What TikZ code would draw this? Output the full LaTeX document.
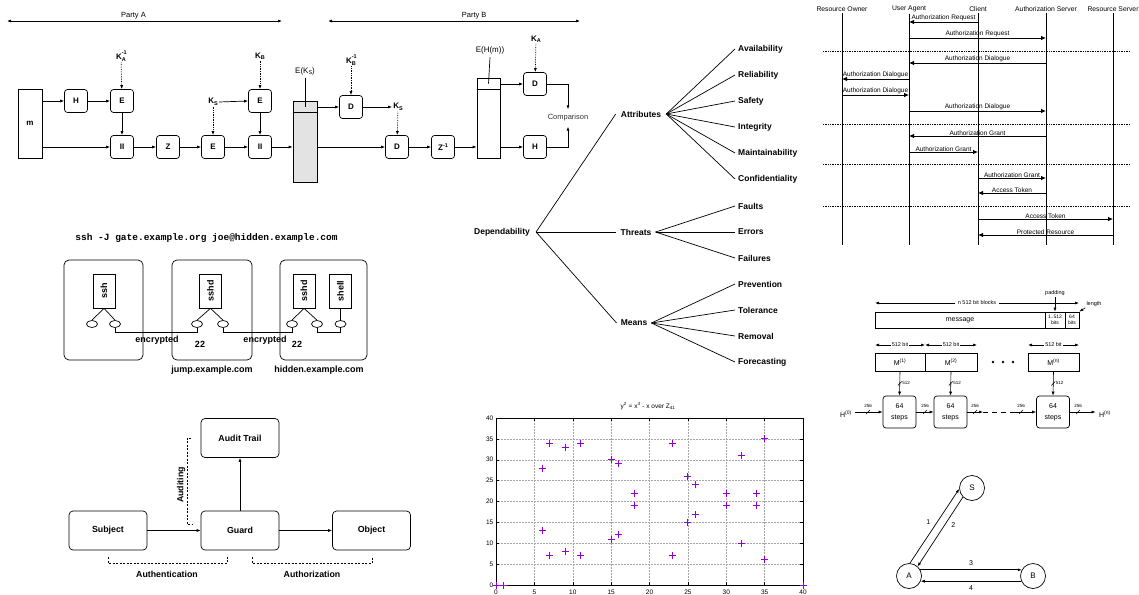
\documentclass[tikz,border=0pt]{standalone}
\usepackage{fontspec}
\setmainfont{Liberation Sans}
\setmonofont{Liberation Mono}
\usetikzlibrary{arrows.meta,shapes.geometric,calc}
\definecolor{gpurple}{RGB}{148,0,211}
\newcommand\fsz[1]{\fontsize{#1}{#1}\selectfont}
\newcommand\Ksub[1]{K\raisebox{-1.5pt}{\fsz{5.5}#1}}
\newcommand\Ksubsup[2]{K\rlap{\raisebox{4.6pt}{\fsz{5.5}#2}}\raisebox{-2pt}{\fsz{5.5}#1}}
\begin{document}
\begin{tikzpicture}[x=1pt,y=-1pt,
  lw/.style={line width=0.7pt},
  >={Latex[length=4pt,width=3pt]},
  arr/.style={lw,->},
  darr/.style={lw,->,densely dotted},
  cbox/.style={draw,lw,rounded corners=3pt,minimum width=23pt,minimum height=23pt,inner sep=0pt,font=\fsz{8}\bfseries},
  klab/.style={font=\fsz{8}\bfseries,inner sep=1pt},
  dep/.style={font=\fsz{8.5}\bfseries,inner xsep=4pt,inner ysep=1pt},
  leaf/.style={font=\fsz{8.5}\bfseries,anchor=west,inner xsep=3pt},
  hdr/.style={font=\fsz{6.8},inner sep=1.5pt},
  life/.style={line width=0.8pt},
  msg/.style={line width=0.8pt,-{Latex[length=5pt,width=4.5pt]}},
  mlab/.style={font=\fsz{6.5},above,inner sep=0.5pt},
  sep/.style={line width=0.7pt,densely dotted},
  host/.style={draw,lw,rounded corners=5pt,minimum height=100pt,inner sep=0pt},
  pbox/.style={draw,lw,minimum width=22pt,minimum height=34pt,inner sep=0pt,font=\fsz{9}\bfseries},
  port/.style={draw,lw,ellipse,minimum width=11pt,minimum height=7pt,inner sep=0pt,fill=white},
  blab/.style={font=\fsz{9}\bfseries,inner sep=1pt},
  gbox/.style={draw,lw,rounded corners=4pt,minimum width=78pt,minimum height=39pt,font=\fsz{8.8}\bfseries},
  brk/.style={lw,dash pattern=on 2pt off 1.5pt},
  glab/.style={font=\fsz{8.8}\bfseries,inner sep=1pt},
  sm/.style={font=\fsz{5.5},inner sep=1pt},
  tiny/.style={font=\fsz{4.5},inner sep=0.5pt},
  shaarr/.style={line width=0.6pt,->},
  shadbl/.style={line width=0.6pt,<->},
  stp/.style={draw,lw,rounded corners=3pt,minimum width=33pt,minimum height=32pt,inner sep=0pt,font=\fsz{7},align=center},
  mbx/.style={draw,lw,minimum height=18pt,inner sep=0pt,font=\fsz{7}},
  circ/.style={draw,lw,circle,minimum size=25pt,inner sep=0pt,font=\fsz{8}},
  grd/.style={gray!70,line width=0.5pt,densely dotted},
  pc/.style={line width=1pt,draw=gpurple},
]
\useasboundingbox (0,0) rectangle (1139,594);

% ================= crypto =================
\coordinate (paL) at (7,21); \coordinate (paR) at (282,21);
\draw[lw,<->] (paL) -- node[pos=0.46,above=2pt,inner sep=0pt,font=\fsz{7.5}] (pal) {Party A} (paR);
\coordinate (pbL) at (328,21); \coordinate (pbR) at (580,21);
\draw[lw,<->] (pbL) -- node[pos=0.58,above=2pt,inner sep=0pt,font=\fsz{7.5}] (pbl) {Party B} (pbR);

\node[draw,lw,minimum width=24pt,minimum height=69pt,inner sep=0pt,font=\fsz{8}\bfseries] (m) at (30,123.5) {m};
\node[cbox] (h1) at (76,101) {H};
\node[cbox] (e1) at (122,101) {E};
\node[klab] (ka1) at (121,56) {\Ksubsup{A}{-1}};
\node[cbox] (c1) at (122,147) {II};
\node[cbox] (z) at (168,147) {Z};
\node[cbox] (e2) at (213,147) {E};
\node[klab] (ks1) at (213,102) {\Ksub{S}};
\node[cbox] (e3) at (260,101) {E};
\node[klab] (kb) at (260,56) {\Ksub{B}};
\node[cbox] (c2) at (260,147) {II};
\node[draw,lw,fill=gray!22,minimum width=24pt,minimum height=81pt,inner sep=0pt] (col1) at (305,141.5) {};
\draw[line width=1.4pt] ($(col1.north west)+(0,12)$) -- ($(col1.north east)+(0,12)$);
\node[font=\fsz{8}] (ek) at (305,71) {E(K\raisebox{-1.5pt}{\fsz{5.5}S})};
\draw[lw] (ek.south) -- ($(col1.north)+(0,6)$);
\node[cbox] (d1) at (351,107) {D};
\node[klab] (kb1) at (351,60) {\Ksubsup{B}{-1}};
\node[klab] (ks2) at (398,107) {\Ksub{S}};
\node[cbox] (d2) at (397,147) {D};
\node[cbox] (zi) at (443,147) {Z\raisebox{3.5pt}{\fsz{5.5}-1}};
\node[draw,lw,minimum width=23pt,minimum height=80pt,inner sep=0pt] (col2) at (488.5,118) {};
\draw[line width=1.4pt] ($(col2.north west)+(0,12)$) -- ($(col2.north east)+(0,12)$);
\node[font=\fsz{8}] (ehm) at (490,50) {E(H(m))};
\draw[lw] (ehm.south) -- ($(col2.north)+(0,6)$);
\node[cbox] (d3) at (535,84) {D};
\node[klab] (ka2) at (536,39) {\Ksub{A}};
\node[cbox] (h2) at (535,147) {H};
\node[font=\fsz{7.5},text=black!80,inner xsep=0pt,inner ysep=5pt] (cmp) at (568,118) {Comparison};

\draw[arr] (m.east |- h1) -- (h1);
\draw[arr] (h1) -- (e1);
\draw[darr] (ka1) -- (e1);
\draw[arr] (e1) -- (c1);
\draw[arr] (m.east |- c1) -- (c1);
\draw[arr] (c1) -- (z);
\draw[arr] (z) -- (e2);
\draw[darr] (ks1) -- (e2);
\draw[arr] (ks1.east) -- (e3.west);
\draw[darr] (kb) -- (e3);
\draw[arr] (e2) -- (c2);
\draw[arr] (e3) -- (c2);
\draw[arr] (c2) -- (col1.west |- c2);
\draw[arr] (col1.east |- d1) -- (d1);
\draw[darr] (kb1) -- (d1);
\draw[arr] (d1) -- (ks2);
\draw[darr] (ks2) -- (d2);
\draw[arr] (col1.east |- d2) -- (d2);
\draw[arr] (d2) -- (zi);
\draw[arr] (zi) -- (col2.west |- zi);
\draw[arr] (col2.east |- d3) -- (d3);
\draw[darr] (ka2) -- (d3);
\draw[arr] (col2.east |- h2) -- (h2);
\draw[arr] (d3.east) -| (cmp.north);
\draw[arr] (h2.east) -| (cmp.south);

% ================= dependability =================
\node[dep,inner xsep=6pt] (dep) at (502,232) {Dependability};
\node[dep,inner xsep=5pt] (attr) at (641,114) {Attributes};
\node[dep] (thr) at (636,232) {Threats};
\node[dep] (means) at (634,323) {Means};
\draw[lw] (dep.east) -- (attr.west);
\draw[lw] (dep.east) -- (thr.west);
\draw[lw] (dep.east) -- (means.west);
\foreach \n/\t/\y in {av/Availability/49, re/Reliability/75, sa/Safety/101, ig/Integrity/127, ma/Maintainability/153, co/Confidentiality/179} {
  \node[leaf] (\n) at (735,\y) {\t};
  \draw[lw] (attr.east) -- (\n.west);
}
\foreach \n/\t/\y in {fa/Faults/206, er/Errors/232, fl/Failures/258} {
  \node[leaf] (\n) at (735,\y) {\t};
  \draw[lw] (thr.east) -- (\n.west);
}
\foreach \n/\t/\y in {pr/Prevention/284, to/Tolerance/310, rm/Removal/336, fc/Forecasting/362} {
  \node[leaf] (\n) at (735,\y) {\t};
  \draw[lw] (means.east) -- (\n.west);
}

% ================= sequence diagram =================
\foreach \n/\t/\x in {ro/Resource Owner/842, ua/User Agent/909, cl/Client/978, as/Authorization Server/1046, rs/Resource Server/1113} {
  \node[hdr] (\n) at (\x,9) {\t};
  \coordinate (\n b) at (\x,245);
  \draw[life] (\n.south) -- (\n b);
}
\foreach \y in {51,124,164,206} {
  \draw[sep] (823,\y) -- (1130,\y);
}
\foreach \a/\b/\y/\t in {cl/ua/22/Authorization Request, ua/as/38/Authorization Request, as/ua/63/Authorization Dialogue, ua/ro/79/Authorization Dialogue, ro/ua/95/Authorization Dialogue, ua/as/111/Authorization Dialogue, as/ua/136/Authorization Grant, ua/cl/152/Authorization Grant, cl/as/178/Authorization Grant, as/cl/193/Access Token, cl/rs/219/Access Token, rs/cl/235/Protected Resource} {
  \draw[msg] (\a |- 0,\y) -- node[mlab]{\t} (\b |- 0,\y);
}

% ================= ssh =================
\node[font=\ttfamily\bfseries\fsz{9.5}] (cmd) at (206.5,238) {ssh -J gate.example.org joe@hidden.example.com};
\node[host,minimum width=79pt] (hb1) at (103.5,310) {};
\node[host,minimum width=80pt] (hb2) at (212,310) {};
\node[host,minimum width=87pt] (hb3) at (323.5,310) {};
\node[pbox] (ssh) at (104,291) {\rotatebox{90}{ssh}};
\node[pbox] (sshd1) at (210.5,291) {\rotatebox{90}{sshd}};
\node[pbox] (sshd2) at (304,291) {\rotatebox{90}{sshd}};
\node[pbox] (shell) at (340.5,291) {\rotatebox{90}{shell}};
\node[port] (p1) at (92,324) {};
\node[port] (p2) at (115,324) {};
\node[port] (q1) at (197,324) {};
\node[port] (q2) at (223,324) {};
\node[port] (r1) at (292,324) {};
\node[port] (r2) at (317,324) {};
\node[port] (r3) at (340.5,324) {};
\draw[lw] (ssh.south) -- (p1.north);
\draw[lw] (ssh.south) -- (p2.north);
\draw[lw] (sshd1.south) -- (q1.north);
\draw[lw] (sshd1.south) -- (q2.north);
\draw[lw] (sshd2.south) -- (r1.north);
\draw[lw] (sshd2.south) -- (r2.north);
\draw[lw] (shell.south) -- (r3.north);
\draw[lw] (p2.south) |- (q1.south |- 0,332) -- (q1.south);
\draw[lw] (q2.south) |- (r1.south |- 0,332) -- (r1.south);
\draw[lw] (r2.south) |- (r3.south |- 0,332) -- (r3.south);
\node[blab] (enc1) at (157,340) {encrypted};
\node[blab] (n22a) at (200,344) {22};
\node[blab] (enc2) at (265,340) {encrypted};
\node[blab] (n22b) at (297,344) {22};
\node[blab] (jump) at (212,370) {jump.example.com};
\node[blab] (hidden) at (319,370) {hidden.example.com};

% ================= guard =================
\node[gbox] (audit) at (240,438) {Audit Trail};
\node[gbox] (subj) at (108,530.5) {Subject};
\node[gbox] (guard) at (240,530.5) {Guard};
\node[gbox] (obj) at (371.5,530.5) {Object};
\draw[arr] (subj) -- (guard);
\draw[arr] (guard) -- (obj);
\draw[arr] (guard) -- (audit);
\coordinate (ad1) at (191,438); \coordinate (ad2) at (193,524);
\draw[brk] (ad1) -- (187,438) -- (187,524) -- (ad2);
\node[glab,rotate=90] (audl) at (181,485) {Auditing};
\coordinate (an1) at (108,557); \coordinate (an2) at (227,557);
\draw[brk] (an1) -- (108,563) -- (227,563) -- (an2);
\node[glab] (anl) at (167,574) {Authentication};
\coordinate (az1) at (252,557); \coordinate (az2) at (372,557);
\draw[brk] (az1) -- (252,563) -- (372,563) -- (az2);
\node[glab] (azl) at (312,574) {Authorization};

% ================= plot =================
\node[font=\fsz{6.5}] (ptitle) at (648,406) {y\textsuperscript{2} = x\textsuperscript{3} - x over Z\textsubscript{41}};
\begin{scope}[shift={(496,585)},x=7.675pt,y=4.175pt]
  \foreach \v in {5,10,...,35} {
    \draw[grd] (\v,0) -- (\v,40);
    \draw[grd] (0,\v) -- (40,\v);
  }
  \foreach \v in {0,5,...,40} {
    \draw[line width=0.5pt] (\v,0) -- ++(0pt,3pt);
    \draw[line width=0.5pt] (\v,40) -- ++(0pt,-3pt);
    \draw[line width=0.5pt] (0,\v) -- ++(3pt,0pt);
    \draw[line width=0.5pt] (40,\v) -- ++(-3pt,0pt);
    \node[anchor=east,font=\fsz{6.5},inner sep=2.5pt] (yl\v) at (0,\v) {\v};
    \node[anchor=north,font=\fsz{6.5},inner sep=4.5pt] (xl\v) at (\v,0) {\v};
  }
  \draw[line width=0.8pt] (0,0) rectangle (40,40);
  \foreach \px/\py in {0/0,1/0,40/0,6/13,6/28,7/7,7/34,9/8,9/33,11/7,11/34,15/11,15/30,16/12,16/29,18/19,18/22,23/7,23/34,25/15,25/26,26/17,26/24,30/19,30/22,32/10,32/31,34/19,34/22,35/6,35/35} {
    \draw[pc] (\px,\py) ++(-3.5pt,0pt) -- ++(7pt,0pt) ++(-3.5pt,-3.5pt) -- ++(0pt,7pt);
  }
\end{scope}

% ================= SHA-256 =================
\coordinate (nb1) at (875,303); \coordinate (nb2) at (1079,303);
\draw[shadbl] (nb1) -- node[sm,fill=white,inner xsep=3pt] (nbl) {n 512 bit blocks} (nb2);
\node[draw,lw,minimum width=170pt,minimum height=16pt,inner sep=0pt,font=\fsz{7}] (msgb) at (960,320) {message};
\node[draw,lw,minimum width=20pt,minimum height=16pt,inner sep=0pt,font=\fsz{5},align=center] (pad) at (1055,320) {1..512\\[1.5pt]bits};
\node[draw,lw,minimum width=14pt,minimum height=16pt,inner sep=0pt,font=\fsz{5},align=center] (len) at (1072,320) {64\\[1.5pt]bits};
\node[sm] (padl) at (1055,293) {padding};
\draw[shaarr] (padl) -- (pad);
\node[sm] (lenl) at (1094,304) {length};
\draw[shaarr] (lenl.south west) -- (len.north east);
\coordinate (b1a) at (875,345); \coordinate (b1b) at (925,345);
\draw[shadbl] (b1a) -- node[sm,fill=white] (bl1) {512 bit} (b1b);
\coordinate (b2a) at (925,345); \coordinate (b2b) at (977,345);
\draw[shadbl] (b2a) -- node[sm,fill=white] (bl2) {512 bit} (b2b);
\coordinate (b3a) at (1028,345); \coordinate (b3b) at (1079,345);
\draw[shadbl] (b3a) -- node[sm,fill=white] (bl3) {512 bit} (b3b);
\node[mbx,minimum width=50pt] (m1) at (900,362) {M\textsuperscript{(1)}};
\node[mbx,minimum width=52pt] (m2) at (951,362) {M\textsuperscript{(2)}};
\node[mbx,minimum width=51pt] (mn) at (1053.5,362) {M\textsuperscript{(n)}};
\fill (993,362) circle (1.4pt) (1003,362) circle (1.4pt) (1013,362) circle (1.4pt);
\node[stp] (s1) at (899.5,412) {64\\[4pt]steps};
\node[stp] (s2) at (950.5,412) {64\\[4pt]steps};
\node[stp] (s3) at (1053,412) {64\\[4pt]steps};
\foreach \a/\b in {m1/s1, m2/s2, mn/s3} {
  \draw[shaarr] (\a.south) -- (\b.north);
  \draw[line width=0.5pt] ($(\a.south)!0.5!(\b.north)+(-2,2)$) -- ++(4,-4);
  \node[tiny,anchor=west] (t\a) at ($(\a.south)!0.5!(\b.north)+(2,-1)$) {512};
}
\node[font=\fsz{7}] (h0) at (846,414) {H\textsuperscript{(0)}};
\node[font=\fsz{7}] (hn) at (1105,414) {H\textsuperscript{(n)}};
\coordinate (g1) at (983,412); \coordinate (g2) at (1013,412);
\draw[shaarr] (h0.east |- s1) -- (s1.west);
\draw[shaarr] (s1) -- (s2);
\draw[shaarr] (s2) -- (g1);
\draw[lw,dash pattern=on 5pt off 4pt] (g1) -- (g2);
\draw[shaarr] (g2) -- (s3);
\draw[shaarr] (s3) -- (hn.west |- s3);
\foreach \x/\k in {868/a, 925/b, 975/c, 1021/d, 1078/e} {
  \draw[line width=0.5pt] (\x,412) ++(-2,2) -- ++(4,-4);
  \node[tiny,anchor=south] (w\k) at (\x,408.5) {256};
}

% ================= protocol =================
\node[circ] (S) at (972,488) {S};
\node[circ] (A) at (909,576) {A};
\node[circ] (B) at (1033,576) {B};
\draw[arr] (A.86) -- node[font=\fsz{7},pos=0.55,left=3pt] (l1) {1} (S.184);
\draw[arr] (S.225) -- node[font=\fsz{7},pos=0.4,right=3pt] (l2) {2} (A.48);
\draw[arr] (A.29) -- node[font=\fsz{7},above=0.5pt] (l3) {3} (B.151);
\draw[arr] (B.204) -- node[font=\fsz{7},below=0.5pt] (l4) {4} (A.336);
\end{tikzpicture}
\end{document}
